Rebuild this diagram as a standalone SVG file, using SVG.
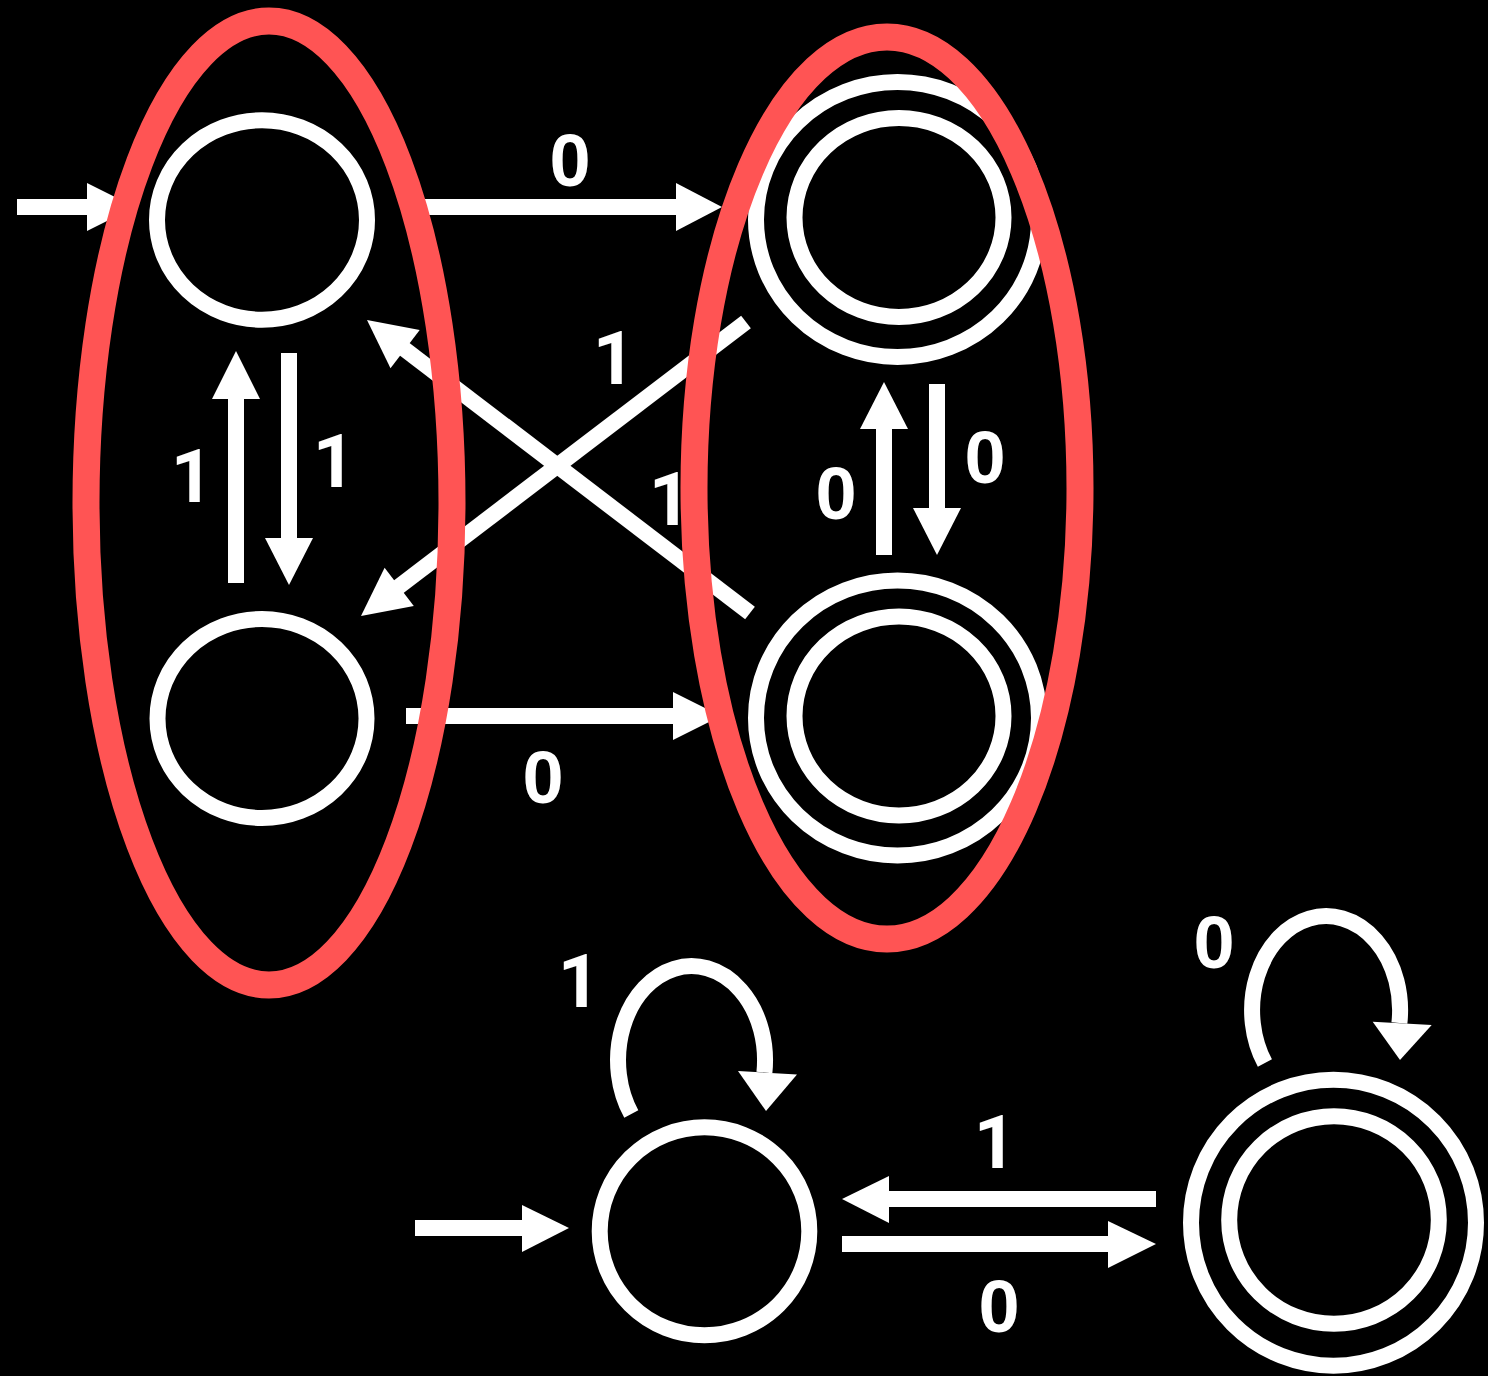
<svg xmlns="http://www.w3.org/2000/svg" width="1488" height="1376" viewBox="0 0 1488 1376">
  <style>
    .st { fill: none; stroke: #ffffff; stroke-width: 16; }
    .sh { fill: none; stroke: #ffffff; stroke-width: 16; stroke-linecap: butt; }
    .hd { fill: #ffffff; stroke: none; }
    .lb { fill: #ffffff; font-family: "Liberation Sans", Arial, sans-serif; font-weight: bold; font-size: 74px; text-anchor: middle; }
    .one { font-family: Roboto, "Liberation Sans", Arial, sans-serif; }
    .grp { fill: none; stroke: #ff5454; stroke-width: 27; }
  </style>
  <rect x="0" y="0" width="1488" height="1376" fill="#000000"/>

  <g id="connectors">
    <!-- initial arrow top -->
    <g id="init-top">
      <line class="sh" x1="17" y1="207" x2="90" y2="207"/>
      <polygon class="hd" points="87,183 135,207 87,231"/>
    </g>
    <!-- A -> C, 0 -->
    <g id="a-c">
      <line class="sh" x1="425" y1="207" x2="679" y2="207"/>
      <polygon class="hd" points="676,183 722,207 676,231"/>
      <text class="lb" x="570" y="186">0</text>
    </g>
    <!-- B -> A, 1 -->
    <g id="b-a">
      <line class="sh" x1="236" y1="583" x2="236" y2="396"/>
      <polygon class="hd" points="212,399 236,351 260,399"/>
      <text class="lb one" x="192" y="502">1</text>
    </g>
    <!-- A -> B, 1 -->
    <g id="a-b">
      <line class="sh" x1="289" y1="353" x2="289" y2="541"/>
      <polygon class="hd" points="265,538 289,585 313,538"/>
      <text class="lb one" x="334" y="487">1</text>
    </g>
    <!-- D -> A, 1 -->
    <g id="d-a">
      <line class="sh" x1="750" y1="613" x2="403" y2="348"/>
      <polygon class="hd" points="367,320 419.7,330.1 390.5,368.3"/>
      <text class="lb one" x="670" y="525">1</text>
    </g>
    <!-- C -> B, 1 -->
    <g id="c-b">
      <line class="sh" x1="746" y1="322" x2="397" y2="588"/>
      <polygon class="hd" points="361,616 384.6,567.8 413.8,606"/>
      <text class="lb one" x="614" y="384">1</text>
    </g>
    <!-- D -> C, 0 -->
    <g id="d-c">
      <line class="sh" x1="884" y1="555" x2="884" y2="426"/>
      <polygon class="hd" points="860,429 884,382 908,429"/>
      <text class="lb" x="836" y="519">0</text>
    </g>
    <!-- C -> D, 0 -->
    <g id="c-d">
      <line class="sh" x1="937" y1="384" x2="937" y2="511"/>
      <polygon class="hd" points="913,508 937,555 961,508"/>
      <text class="lb" x="985" y="483">0</text>
    </g>
    <!-- B -> D, 0 -->
    <g id="b-d">
      <line class="sh" x1="406" y1="716" x2="676" y2="716"/>
      <polygon class="hd" points="673,692 721,716 673,740"/>
      <text class="lb" x="543" y="803">0</text>
    </g>

    <!-- bottom machine -->
    <g id="init-bottom">
      <line class="sh" x1="415" y1="1228" x2="525" y2="1228"/>
      <polygon class="hd" points="522,1205 569,1228 522,1252"/>
    </g>
    <g id="e-loop">
      <path class="sh" d="M 631.3,1114 A 73.5 94 0 1 1 764.4,1072.5"/>
      <polygon class="hd" points="738,1071 797,1074.5 766,1111"/>
      <text class="lb one" x="579" y="1007">1</text>
    </g>
    <g id="f-loop">
      <path class="sh" d="M 1264.9,1063 A 74 94 0 1 1 1399.4,1023"/>
      <polygon class="hd" points="1372.7,1021.7 1431.7,1025 1400,1060"/>
      <text class="lb" x="1214" y="968">0</text>
    </g>
    <g id="f-e">
      <line class="sh" x1="1156" y1="1199" x2="886" y2="1199"/>
      <polygon class="hd" points="889,1176 842,1199 889,1223"/>
      <text class="lb one" x="995" y="1168">1</text>
    </g>
    <g id="e-f">
      <line class="sh" x1="842" y1="1244" x2="1111" y2="1244"/>
      <polygon class="hd" points="1108,1221 1156,1244 1108,1268"/>
      <text class="lb" x="999" y="1332">0</text>
    </g>
  </g>

  <g id="node-a"><ellipse class="st" cx="262" cy="220" rx="105" ry="99.7"/></g>
  <g id="node-b"><ellipse class="st" cx="262" cy="718.5" rx="104.5" ry="99.5"/></g>
  <g id="node-c">
    <ellipse class="st" cx="897.5" cy="219.5" rx="141.5" ry="137.5"/>
    <ellipse class="st" cx="899" cy="217.5" rx="104.5" ry="99.5"/>
  </g>
  <g id="node-d">
    <ellipse class="st" cx="897.5" cy="718" rx="141.5" ry="137.5"/>
    <ellipse class="st" cx="899" cy="716" rx="104.5" ry="99.5"/>
  </g>
  <g id="node-e"><ellipse class="st" cx="704.5" cy="1231.3" rx="104.8" ry="104"/></g>
  <g id="node-f">
    <ellipse class="st" cx="1333.5" cy="1222.7" rx="142.5" ry="143"/>
    <ellipse class="st" cx="1334" cy="1220" rx="104.8" ry="103.8"/>
  </g>

  <g id="groups">
    <ellipse class="grp" cx="269" cy="503" rx="183" ry="482"/>
    <ellipse class="grp" cx="887" cy="488" rx="193" ry="451"/>
  </g>
</svg>
